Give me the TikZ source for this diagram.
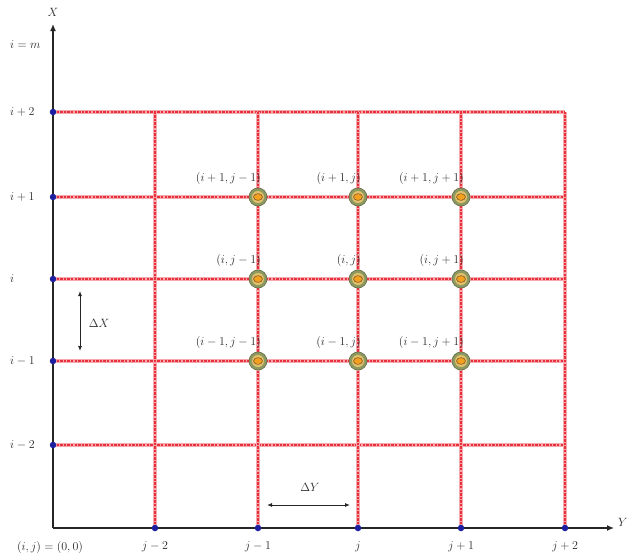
\documentclass[tikz,border=0pt]{standalone}
\usepackage{tikz}
\usetikzlibrary{arrows.meta,positioning,calc}
\definecolor{gred}{HTML}{E8303A}
\definecolor{gpink}{HTML}{F5A8AE}
\definecolor{gblue}{HTML}{1B1FA0}
\definecolor{gorange}{HTML}{F2A01E}
\definecolor{golive}{HTML}{8C9A62}
\definecolor{gtan}{HTML}{E3C06A}
\definecolor{gtext}{HTML}{2A2A2A}

\tikzset{
 gridline/.style={gpink, line width=3.2pt, postaction={draw=gred, line width=1.8pt, dash pattern=on 2.4pt off 1.2pt}},
 axis/.style={black!85, line width=2.2pt, -{Latex[length=7pt,width=6pt]}},
 stepmark/.style={black!85, line width=0.9pt, {Latex[length=5pt,width=4pt]}-{Latex[length=5pt,width=4pt]}},
 gpt/.style={circle, fill=golive, draw=golive!70!black, line width=0.6pt, minimum size=18pt, inner sep=0pt,
   path picture={
     \fill[gtan] (path picture bounding box.center) circle (6pt);
     \fill[gorange, draw=brown!70!black, line width=0.6pt] (path picture bounding box.center) ellipse (4.5pt and 3.4pt);}},
 lbl/.style={text=gtext, inner sep=1pt},
 dot/.style={circle, fill=gblue, minimum size=6.5pt, inner sep=0pt}
}

\begin{document}
\begin{tikzpicture}[x=1pt, y=-1pt, font=\fontsize{12}{14}\selectfont]
 \useasboundingbox (0,0) rectangle (634,558);
 % axes ends
 \coordinate (O) at (53,528);
 \coordinate (Xtop) at (53,24);
 \coordinate (Yend) at (614,528);
 % grid rows and columns
 \foreach \r/\y in {m2/445,m1/361,z/279,p1/197,p2/112} {
   \coordinate (row-\r) at (53,\y);
   \coordinate (rowend-\r) at (565,\y);
 }
 \foreach \c/\x in {m2/155,m1/258,z/358,p1/461,p2/565} {
   \coordinate (col-\c) at (\x,528);
   \coordinate (coltop-\c) at (\x,112);
 }
 \foreach \r in {m2,m1,z,p1,p2} \draw[gridline] (row-\r) -- (rowend-\r);
 \foreach \c in {m2,m1,z,p1,p2} \draw[gridline] (col-\c) -- (coltop-\c);
 % axes
 \draw[axis] (O) -- (Xtop);
 \draw[axis] (O) -- (Yend);
 \node[lbl] (xlab) at (53,12) {$X$};
 \node[lbl, anchor=west] (ylab) at (617,522) {$Y$};
 \node[lbl, anchor=west] (lm) at (9,45) {$i=m$};
 % marks on the axes
 \foreach \r/\t in {m2/i-2,m1/i-1,z/i,p1/i+1,p2/i+2} {
   \node[dot] (d-\r) at (row-\r) {};
   \node[lbl, anchor=west] (rl-\r) at ($(row-\r)+(-44,0)$) {$\t$};
 }
 \foreach \c/\t in {m2/j-2,m1/j-1,z/j,p1/j+1,p2/j+2} {
   \node[dot] (e-\c) at (col-\c) {};
   \node[lbl] (cl-\c) at ($(col-\c)+(0,19)$) {$\t$};
 }
 \node[lbl] (orig) at (50,547) {$(i,j)=(0,0)$};
 % steps
 \coordinate (dxa) at (80,291);
 \coordinate (dxb) at (80,351);
 \draw[stepmark] (dxa) -- (dxb);
 \node[lbl] (dxl) at (99,323) {$\Delta X$};
 \coordinate (dya) at (267,505);
 \coordinate (dyb) at (350,505);
 \draw[stepmark] (dya) -- (dyb);
 \node[lbl] (dyl) at (310,487) {$\Delta Y$};
 % stencil points
 \foreach \r/\rt in {m1/i-1,z/i,p1/i+1}
  \foreach \c/\ct in {m1/j-1,z/j,p1/j+1} {
   \node[gpt] (n-\r-\c) at (col-\c |- row-\r) {};
   \node[lbl, anchor=south east] (t-\r-\c) at ($(n-\r-\c.north)+(4,-2)$) {$(\rt,\ct)$};
  }
\end{tikzpicture}
\end{document}
